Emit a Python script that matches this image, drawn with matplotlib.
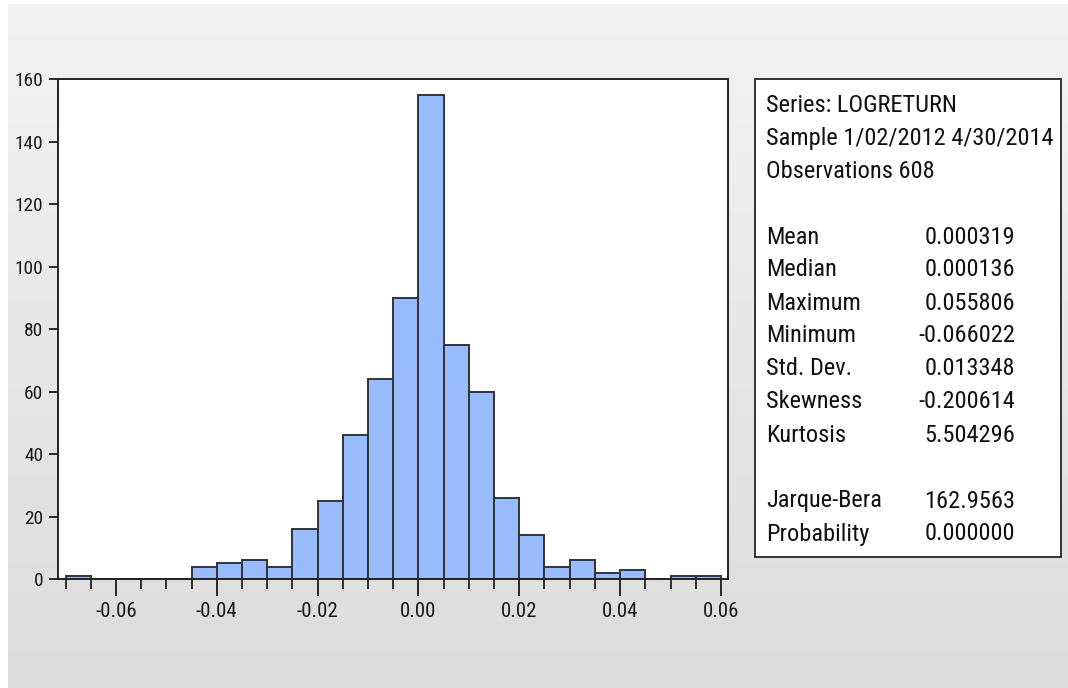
import numpy as np
import matplotlib
matplotlib.use("Agg")
import matplotlib.pyplot as plt
from matplotlib import font_manager
from matplotlib.patches import Rectangle

# ---- data ----
bin_lefts = [-0.070, -0.065, -0.060, -0.055, -0.050, -0.045, -0.040, -0.035,
             -0.030, -0.025, -0.020, -0.015, -0.010, -0.005, 0.000, 0.005,
             0.010, 0.015, 0.020, 0.025, 0.030, 0.035, 0.040, 0.045, 0.050,
             0.055]
counts = [1, 0, 0, 0, 0, 4, 5, 6, 4, 16, 25, 46, 64, 90, 155, 75, 60, 26, 14,
          4, 6, 2, 3, 0, 1, 1]
bin_width = 0.005
x_major = [-0.06, -0.04, -0.02, 0.00, 0.02, 0.04, 0.06]
x_minor = [-0.070, -0.065, -0.060, -0.055, -0.050, -0.045, -0.040, -0.035,
           -0.030, -0.025, -0.020, -0.015, -0.010, -0.005, 0.000, 0.005,
           0.010, 0.015, 0.020, 0.025, 0.030, 0.035, 0.040, 0.045, 0.050,
           0.055, 0.060]
y_ticks = [0, 20, 40, 60, 80, 100, 120, 140, 160]

header_lines = ["Series: LOGRETURN", "Sample 1/02/2012 4/30/2014",
                "Observations 608"]
stat_names = ["Mean", "Median", "Maximum", "Minimum", "Std. Dev.",
              "Skewness", "Kurtosis"]
stat_values = ["0.000319", "0.000136", "0.055806", "-0.066022", "0.013348",
               "-0.200614", "5.504296"]
test_names = ["Jarque-Bera", "Probability"]
test_values = ["162.9563", "0.000000"]

# ---- font: prefer a narrow sans ----
avail = {f.name for f in font_manager.fontManager.ttflist}
prefs = ["Liberation Sans Narrow", "Arial Narrow", "Roboto Condensed",
         "Open Sans Condensed", "Noto Sans Condensed"]
extra = sorted(n for n in avail if ("Narrow" in n or "Condensed" in n)
               and "Mono" not in n and "Serif" not in n)
fam = [f for f in prefs if f in avail] + [f for f in extra if f not in prefs]
fam = fam[:1] + [f for f in ["Liberation Sans", "DejaVu Sans"] if f in avail]
plt.rcParams['font.family'] = fam

W, H = 1068, 688
fig = plt.figure(figsize=(W / 100, H / 100), dpi=100)
fig.patch.set_facecolor("white")
renderer = fig.canvas.get_renderer()


def fit_size(s, target_px, base=20.0):
    t = fig.text(0, 0, s, fontsize=base)
    w = t.get_window_extent(renderer).width
    t.remove()
    return base * target_px / w


def cap_size(cap_px):
    return cap_px / 0.71 * 0.72


s_sample = fit_size("Sample 1/02/2012 4/30/2014", 282)
s_series = fit_size("Series: LOGRETURN", 209)
s_jb = fit_size("Jarque-Bera", 119)
fs_box = (s_sample * s_series * s_jb * cap_size(20)) ** 0.25
fs_box = min(fs_box, s_sample * 1.02)
fs_x = (fit_size("-0.06", 40) * cap_size(15.5)) ** 0.5
fs_y = (fit_size("160", 27) * cap_size(14.5)) ** 0.5

# background gradient
bg = fig.add_axes([8 / W, 0, 1 - 8 / W, 1 - 4 / H], zorder=-10)
grad = np.linspace(0, 1, 256).reshape(-1, 1)
top = np.array([0.953, 0.953, 0.953])
bot = np.array([0.862, 0.862, 0.862])
img = top + (bot - top) * grad[:, :, None]
bg.imshow(img, aspect="auto", extent=[0, 1, 0, 1], origin="upper")
bg.set_axis_off()


def px(x0, y0, x1, y1):
    return [x0 / W, 1 - y1 / H, (x1 - x0) / W, (y1 - y0) / H]


ax = fig.add_axes(px(58, 79, 728, 579))
ax.set_facecolor("white")
ax.bar(bin_lefts, counts, width=bin_width, align="edge", color="#99bbff",
       edgecolor="#333333", linewidth=1.4, zorder=2)
ax.set_xlim(-0.0715, 0.0614)
ax.set_ylim(0, 160)
ax.set_xticks(x_major)
ax.set_xticklabels(["%.2f" % v for v in x_major])
ax.set_xticks(x_minor, minor=True)
ax.set_yticks(y_ticks)
ax.set_yticklabels([str(v) for v in y_ticks])
ax.tick_params(axis="x", which="major", length=12, width=1.3, direction="out",
               pad=4.5, labelsize=fs_x, colors="#1a1a1a")
ax.tick_params(axis="x", which="minor", length=7, width=1.3, direction="out",
               colors="#222222")
ax.tick_params(axis="y", which="major", length=6.5, width=1.3, direction="out",
               pad=4, labelsize=fs_y, colors="#1a1a1a")
ax.tick_params(axis="y", which="minor", length=0)
for s in ax.spines.values():
    s.set_linewidth(1.4)
    s.set_color("#222222")

# stats box
fig.patches.append(Rectangle((755 / W, 1 - 557 / H), (1061 - 755) / W,
                             (557 - 79) / H, transform=fig.transFigure,
                             facecolor="white", edgecolor="#333333",
                             linewidth=1.4, zorder=1))

lx, rx = 766 / W, 1015 / W
y = 105
for line in header_lines:
    fig.text(lx, 1 - y / H, line, fontsize=fs_box, va="center", ha="left",
             color="#111111", zorder=3)
    y += 33
y += 33
for n, v in zip(stat_names, stat_values):
    fig.text(lx, 1 - y / H, n, fontsize=fs_box, va="center", ha="left",
             color="#111111", zorder=3)
    fig.text(rx, 1 - y / H, v, fontsize=fs_box, va="center", ha="right",
             color="#111111", zorder=3)
    y += 33
y += 33
for n, v in zip(test_names, test_values):
    fig.text(lx, 1 - y / H, n, fontsize=fs_box, va="center", ha="left",
             color="#111111", zorder=3)
    fig.text(rx, 1 - y / H, v, fontsize=fs_box, va="center", ha="right",
             color="#111111", zorder=3)
    y += 33

fig.savefig("out.png", dpi=100)
